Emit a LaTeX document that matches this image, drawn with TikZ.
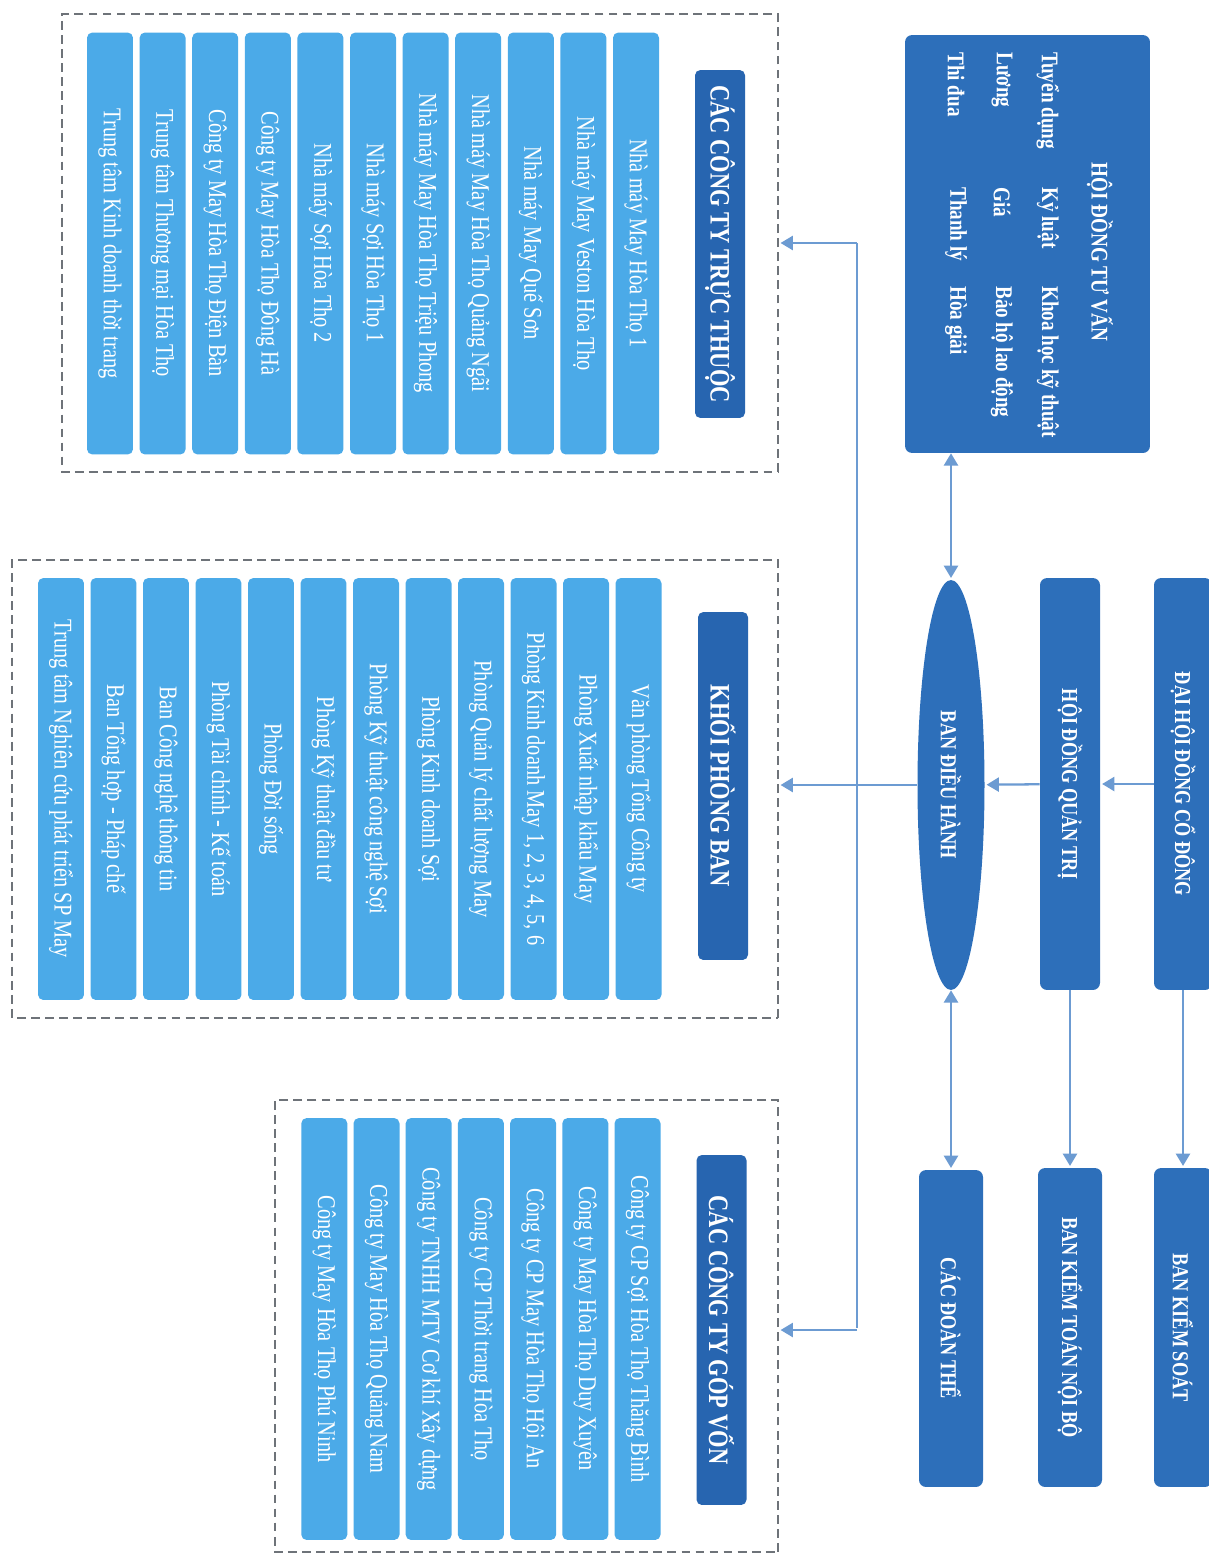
\documentclass[tikz,border=0pt]{standalone}
\usepackage{fontspec}
\setmainfont{Liberation Serif}[FakeStretch=0.8]
\usetikzlibrary{
        arrows.meta,
        positioning,
        shapes.geometric
    }
\definecolor{darkbox}{HTML}{2D6FBA}
\definecolor{headbox}{HTML}{2765B0}
\definecolor{lightbar}{HTML}{4BAAE8}
\definecolor{linkblue}{HTML}{6C9BD2}
\definecolor{framegray}{HTML}{6E7379}
\tikzset{>={Triangle[width=8pt,length=7pt]},shorten >=1pt}
\tikzset{
    board/.style={fill=darkbox, rounded corners=4pt, text=white, inner sep=0pt,
        font=\bfseries\fontsize{13}{15}\selectfont},
    boardtext/.style={text=white, inner sep=0pt, font=\bfseries\fontsize{13.6}{15}\selectfont},
    head/.style={fill=headbox, rounded corners=3pt, text=white, inner sep=0pt,
        minimum width=6.96cm, minimum height=1cm, font=\bfseries\fontsize{16}{18}\selectfont},
    unit/.style={fill=lightbar, rounded corners=3pt, text=white, inner sep=0pt,
        minimum width=8.44cm, minimum height=0.92cm, font=\fontsize{14.5}{16}\selectfont},
    group/.style={draw=framegray, line width=1pt, dash pattern=on 5pt off 3pt, inner sep=0pt},
    link/.style={color=linkblue, line width=1.3pt}
}

\begin{document}
\begin{tikzpicture}[x=0.02cm, y=0.02cm, rotate=-90, transform shape]
    \useasboundingbox (0,0) rectangle (1555,1208);
    \fill[white] (0,0) rectangle (1555,1208);

    % management
    \node[board, minimum width=8.24cm, minimum height=1.16cm] (dhdcd) at (784,1183) {ĐẠI HỘI ĐỒNG CỔ ĐÔNG};
    \node[board, minimum width=8.24cm, minimum height=1.2cm] (hdqt) at (784,1070) {HỘI ĐỒNG QUẢN TRỊ};
    \node[board, ellipse, rounded corners=0pt, minimum width=8.2cm, minimum height=1.34cm] (bdh) at (785,951) {BAN ĐIỀU HÀNH};
    \node[board, minimum width=6.38cm, minimum height=1.16cm] (bks) at (1327.5,1183) {BAN KIỂM SOÁT};
    \node[board, minimum width=6.38cm, minimum height=1.28cm] (bktnb) at (1327.5,1070) {BAN KIỂM TOÁN NỘI BỘ};
    \node[board, minimum width=6.34cm, minimum height=1.28cm] (cdt) at (1328.5,951) {CÁC ĐOÀN THỂ};

    % advisory board
    \node[board, minimum width=8.36cm, minimum height=4.9cm] (hdtv) at (244,1027.5) {};
    \node[boardtext] (hdtvtitle) at (252,1100) {HỘI ĐỒNG TƯ VẤN};
    \foreach \a/\b/\c [count=\r] in {Tuyển dụng/Kỷ luật/Khoa học kỹ thuật,
            Lương/Giá/Bảo hộ lao động, Thi đua/Thanh lý/Hòa giải} {
        \node[boardtext, anchor=west] (hdtv\r a) at (52,{1048-46*(\r-1)}) {\a};
        \node[boardtext, anchor=west] (hdtv\r b) at (187,{1048-46*(\r-1)}) {\b};
        \node[boardtext, anchor=west] (hdtv\r c) at (286,{1048-46*(\r-1)}) {\c};
    }

    % groups
    \node[group, minimum width=9.16cm, minimum height=14.32cm] (cttt) at (243,420) {};
    \node[group, minimum width=9.16cm, minimum height=15.32cm] (kpb) at (789,395) {};
    \node[group, minimum width=9.04cm, minimum height=10.06cm] (ctgv) at (1326,526.5) {};

    \node[head] (tthead) at (244,720) {CÁC CÔNG TY TRỰC THUỘC};
    \node[head] (pbhead) at (786,723) {KHỐI PHÒNG BAN};
    \node[head, minimum width=7cm] (gvhead) at (1330,721.5) {CÁC CÔNG TY GÓP VỐN};

    \foreach \name [count=\i] in {Nhà máy May Hòa Thọ 1, Nhà máy May Veston Hòa Thọ,
            Nhà máy May Quế Sơn, Nhà máy May Hòa Thọ Quảng Ngãi,
            Nhà máy May Hòa Thọ Triệu Phong, Nhà máy Sợi Hòa Thọ 1,
            Nhà máy Sợi Hòa Thọ 2, Công ty May Hòa Thọ Đông Hà,
            Công ty May Hòa Thọ Điện Bàn, Trung tâm Thương mại Hòa Thọ,
            Trung tâm Kinh doanh thời trang}
        \node[unit] (tt\i) at (243.5,{636-52.6*(\i-1)}) {\name};

    \foreach \name [count=\i] in {Văn phòng Tổng Công ty, Phòng Xuất nhập khẩu May,
            {Phòng Kinh doanh May 1, 2, 3, 4, 5, 6}, Phòng Quản lý chất lượng May,
            Phòng Kinh doanh Sợi, Phòng Kỹ thuật công nghệ Sợi,
            Phòng Kỹ thuật đầu tư, Phòng Đời sống, Phòng Tài chính - Kế toán,
            Ban Công nghệ thông tin, Ban Tổng hợp - Pháp chế,
            Trung tâm Nghiên cứu phát triển SP May}
        \node[unit] (pb\i) at (789,{638.5-52.5*(\i-1)}) {\name};

    \foreach \name [count=\i] in {Công ty CP Sợi Hòa Thọ Thăng Bình,
            Công ty May Hòa Thọ Duy Xuyên, Công ty CP May Hòa Thọ Hội An,
            Công ty CP Thời trang Hòa Thọ, Công ty TNHH MTV Cơ khí Xây dựng,
            Công ty May Hòa Thọ Quảng Nam, Công ty May Hòa Thọ Phú Ninh}
        \node[unit] (gv\i) at (1329,{637.5-52.2*(\i-1)}) {\name};

    % connectors
    \coordinate (bus1) at (243,857);
    \coordinate (bus2) at (1330,857);
    \draw[link] (bus1) -- (bus2);
    \path[link,->]
        (dhdcd) edge (hdqt)
        (hdqt) edge (bdh)
        (dhdcd.east) edge (bks.west)
        (hdqt.east) edge (bktnb.west)
        (bdh.south) edge (bdh.south |- kpb.north)
        (bus1) edge (bus1 |- cttt.north)
        (bus2) edge (bus2 |- ctgv.north);
    \path[link,<->]
        (hdtv.east |- bdh.west) edge (bdh.west)
        (bdh.east) edge (cdt.west);
\end{tikzpicture}
\end{document}
